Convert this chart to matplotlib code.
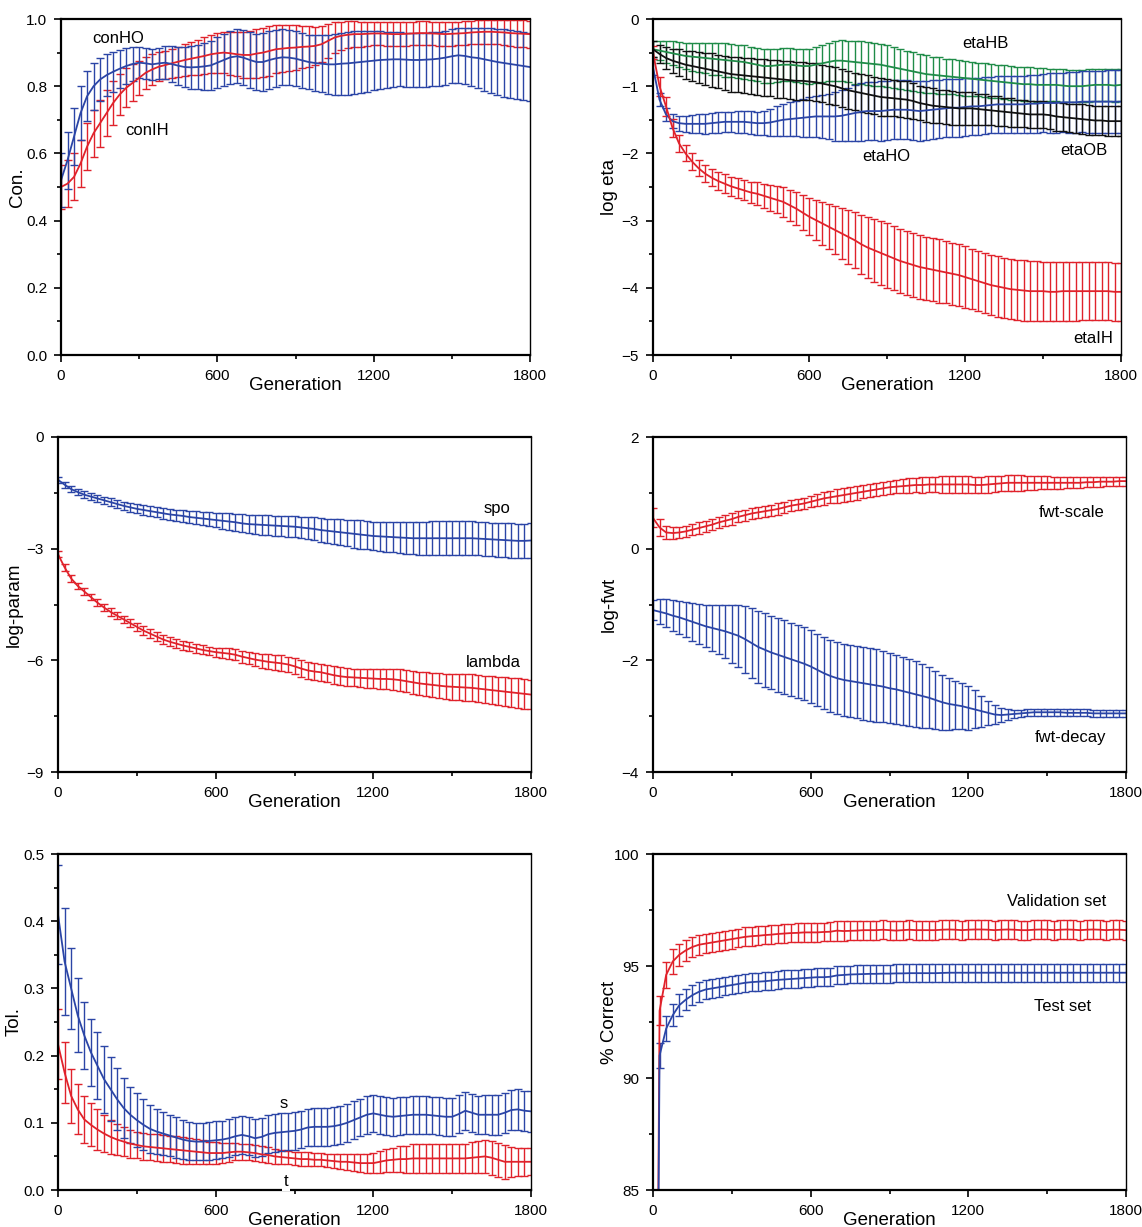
import matplotlib
matplotlib.use("Agg")
import matplotlib.pyplot as plt
from matplotlib.ticker import MultipleLocator

plt.rcParams["font.family"] = ["Liberation Sans", "DejaVu Sans"]

# ── Data: one point every 25 generations (0 .. 1800) ─────────────────
gens = list(range(0, 1801, 25))

# panel 1 - connectivity
conIH_mean = [0.50,
    0.51, 0.53, 0.57, 0.62, 0.66, 0.69, 0.72, 0.75, 0.775, 0.795, 0.81, 0.825,
    0.84, 0.85, 0.858, 0.863, 0.868, 0.873, 0.878, 0.882, 0.886, 0.89, 0.895, 0.898,
    0.90, 0.898, 0.895, 0.893, 0.893, 0.897, 0.90, 0.905, 0.91, 0.912, 0.914, 0.915,
    0.917, 0.918, 0.92, 0.925, 0.935, 0.945, 0.95, 0.953, 0.955, 0.955, 0.956, 0.957,
    0.957, 0.956, 0.955, 0.955, 0.956, 0.957, 0.958, 0.958, 0.957, 0.956, 0.955, 0.956,
    0.957, 0.958, 0.960, 0.961, 0.962, 0.962, 0.961, 0.960, 0.958, 0.957, 0.956, 0.955]
conIH_err = [0.065,
    0.07, 0.07, 0.07, 0.07, 0.07, 0.07, 0.068, 0.065, 0.06, 0.058, 0.055, 0.05,
    0.047, 0.045, 0.043, 0.042, 0.043, 0.045, 0.047, 0.05, 0.052, 0.055, 0.057, 0.06,
    0.062, 0.064, 0.066, 0.068, 0.07, 0.072, 0.073, 0.074, 0.072, 0.07, 0.068, 0.066,
    0.063, 0.06, 0.057, 0.054, 0.05, 0.046, 0.042, 0.04, 0.038, 0.037, 0.036, 0.035,
    0.035, 0.035, 0.035, 0.035, 0.035, 0.035, 0.035, 0.035, 0.035, 0.035, 0.035, 0.035,
    0.035, 0.035, 0.035, 0.035, 0.035, 0.035, 0.036, 0.037, 0.038, 0.039, 0.04, 0.04]
conHO_mean = [0.52,
    0.58, 0.65, 0.72, 0.77, 0.80, 0.82, 0.833, 0.843, 0.852, 0.86, 0.866, 0.87,
    0.868, 0.865, 0.868, 0.87, 0.866, 0.861, 0.857, 0.856, 0.857, 0.859, 0.862, 0.87,
    0.878, 0.886, 0.889, 0.885, 0.878, 0.872, 0.872, 0.878, 0.883, 0.886, 0.885, 0.882,
    0.877, 0.872, 0.869, 0.867, 0.865, 0.865, 0.867, 0.868, 0.87, 0.872, 0.874, 0.876,
    0.878, 0.879, 0.88, 0.88, 0.879, 0.878, 0.878, 0.879, 0.88, 0.882, 0.885, 0.889,
    0.892, 0.89, 0.886, 0.884, 0.88, 0.876, 0.872, 0.869, 0.866, 0.863, 0.86, 0.857]
conHO_err = [0.08,
    0.085, 0.085, 0.08, 0.075, 0.07, 0.065, 0.062, 0.06, 0.057, 0.054, 0.05, 0.047,
    0.046, 0.046, 0.047, 0.05, 0.053, 0.057, 0.06, 0.063, 0.066, 0.069, 0.072, 0.075,
    0.077, 0.079, 0.08, 0.082, 0.083, 0.084, 0.085, 0.085, 0.084, 0.083, 0.082, 0.081,
    0.081, 0.081, 0.082, 0.084, 0.087, 0.09, 0.092, 0.094, 0.094, 0.092, 0.09, 0.088,
    0.085, 0.083, 0.081, 0.08, 0.08, 0.08, 0.08, 0.08, 0.08, 0.08, 0.08, 0.08,
    0.081, 0.083, 0.086, 0.09, 0.093, 0.096, 0.098, 0.1, 0.1, 0.1, 0.1, 0.1]

# panel 2 - learning rates
etaHB_mean = [-0.45,
    -0.47, -0.49, -0.51, -0.53, -0.55, -0.56, -0.57, -0.58, -0.59, -0.60, -0.61, -0.62,
    -0.63, -0.64, -0.66, -0.68, -0.70, -0.70, -0.69, -0.68, -0.68, -0.69, -0.70, -0.70,
    -0.68, -0.66, -0.64, -0.62, -0.62, -0.63, -0.64, -0.65, -0.66, -0.67, -0.68, -0.70,
    -0.72, -0.74, -0.76, -0.78, -0.80, -0.82, -0.83, -0.84, -0.85, -0.86, -0.87, -0.88,
    -0.89, -0.90, -0.91, -0.92, -0.93, -0.94, -0.95, -0.96, -0.97, -0.97, -0.98, -0.98,
    -0.98, -0.98, -0.99, -1.00, -1.00, -1.00, -0.99, -0.98, -0.98, -0.98, -0.99, -0.98]
etaHB_err = [0.12,
    0.14, 0.16, 0.18, 0.19, 0.20, 0.21, 0.22, 0.23, 0.24, 0.24, 0.25, 0.25,
    0.25, 0.25, 0.25, 0.25, 0.25, 0.25, 0.25, 0.25, 0.25, 0.25, 0.25, 0.26,
    0.27, 0.28, 0.29, 0.30, 0.31, 0.31, 0.32, 0.32, 0.32, 0.32, 0.31, 0.31,
    0.30, 0.30, 0.29, 0.29, 0.28, 0.28, 0.27, 0.27, 0.26, 0.26, 0.26, 0.26,
    0.25, 0.25, 0.25, 0.25, 0.25, 0.25, 0.25, 0.25, 0.25, 0.25, 0.25, 0.25,
    0.24, 0.24, 0.24, 0.24, 0.24, 0.24, 0.24, 0.24, 0.24, 0.24, 0.24, 0.24]
etaOB_mean = [-0.45,
    -0.52, -0.58, -0.62, -0.65, -0.68, -0.70, -0.72, -0.74, -0.76, -0.78, -0.80, -0.82,
    -0.83, -0.84, -0.85, -0.86, -0.87, -0.88, -0.89, -0.90, -0.91, -0.92, -0.92, -0.93,
    -0.94, -0.96, -0.98, -1.00, -1.03, -1.06, -1.08, -1.10, -1.12, -1.14, -1.16, -1.17,
    -1.18, -1.19, -1.20, -1.22, -1.25, -1.27, -1.29, -1.30, -1.31, -1.32, -1.33, -1.33,
    -1.33, -1.34, -1.35, -1.36, -1.37, -1.38, -1.39, -1.40, -1.41, -1.42, -1.42, -1.42,
    -1.43, -1.45, -1.46, -1.47, -1.48, -1.49, -1.50, -1.51, -1.51, -1.52, -1.52, -1.52]
etaOB_err = [0.12,
    0.14, 0.16, 0.18, 0.20, 0.21, 0.22, 0.23, 0.24, 0.25, 0.25, 0.25, 0.26,
    0.26, 0.26, 0.27, 0.27, 0.27, 0.27, 0.28, 0.28, 0.28, 0.28, 0.28, 0.28,
    0.28, 0.28, 0.28, 0.28, 0.28, 0.28, 0.28, 0.28, 0.28, 0.28, 0.28, 0.28,
    0.27, 0.27, 0.27, 0.27, 0.26, 0.26, 0.26, 0.25, 0.25, 0.25, 0.25, 0.24,
    0.24, 0.23, 0.23, 0.22, 0.22, 0.21, 0.21, 0.20, 0.20, 0.20, 0.20, 0.20,
    0.20, 0.21, 0.21, 0.21, 0.22, 0.22, 0.22, 0.22, 0.22, 0.22, 0.22, 0.22]
etaHO_mean = [-0.72,
    -1.20, -1.42, -1.52, -1.55, -1.56, -1.56, -1.56, -1.56, -1.55, -1.54, -1.53, -1.53,
    -1.53, -1.53, -1.54, -1.55, -1.55, -1.54, -1.52, -1.50, -1.49, -1.48, -1.47, -1.46,
    -1.45, -1.45, -1.45, -1.45, -1.44, -1.42, -1.40, -1.38, -1.37, -1.37, -1.37, -1.36,
    -1.35, -1.35, -1.35, -1.36, -1.37, -1.36, -1.35, -1.34, -1.33, -1.32, -1.32, -1.31,
    -1.30, -1.30, -1.29, -1.28, -1.27, -1.27, -1.27, -1.27, -1.27, -1.26, -1.26, -1.25,
    -1.25, -1.25, -1.24, -1.24, -1.24, -1.23, -1.23, -1.23, -1.23, -1.23, -1.23, -1.23]
etaHO_err = [0.12,
    0.10, 0.10, 0.10, 0.11, 0.12, 0.13, 0.14, 0.15, 0.15, 0.15, 0.15, 0.15,
    0.16, 0.16, 0.17, 0.17, 0.18, 0.20, 0.22, 0.24, 0.25, 0.26, 0.28, 0.30,
    0.31, 0.32, 0.34, 0.36, 0.38, 0.40, 0.42, 0.43, 0.43, 0.43, 0.44, 0.44,
    0.44, 0.44, 0.44, 0.44, 0.44, 0.44, 0.44, 0.43, 0.43, 0.43, 0.43, 0.43,
    0.42, 0.42, 0.42, 0.42, 0.42, 0.42, 0.42, 0.42, 0.42, 0.43, 0.43, 0.43,
    0.44, 0.44, 0.44, 0.45, 0.45, 0.45, 0.46, 0.46, 0.46, 0.47, 0.47, 0.47]
etaIH_mean = [-0.50,
    -1.00, -1.30, -1.62, -1.85, -2.00, -2.12, -2.22, -2.30, -2.36, -2.41, -2.45, -2.49,
    -2.52, -2.55, -2.58, -2.60, -2.63, -2.66, -2.69, -2.72, -2.77, -2.82, -2.88, -2.94,
    -2.99, -3.04, -3.09, -3.14, -3.19, -3.24, -3.29, -3.35, -3.40, -3.44, -3.48, -3.52,
    -3.56, -3.60, -3.63, -3.66, -3.69, -3.71, -3.73, -3.75, -3.77, -3.79, -3.81, -3.84,
    -3.87, -3.90, -3.93, -3.96, -3.98, -4.00, -4.02, -4.03, -4.04, -4.05, -4.05, -4.05,
    -4.06, -4.06, -4.05, -4.05, -4.05, -4.05, -4.05, -4.05, -4.05, -4.05, -4.06, -4.06]
etaIH_err = [0.10,
    0.14, 0.14, 0.13, 0.13, 0.12, 0.12, 0.12, 0.12, 0.13, 0.13, 0.14, 0.14,
    0.15, 0.15, 0.16, 0.17, 0.18, 0.19, 0.20, 0.22, 0.23, 0.24, 0.26, 0.28,
    0.30, 0.32, 0.34, 0.36, 0.38, 0.40, 0.42, 0.44, 0.46, 0.47, 0.48, 0.48,
    0.48, 0.48, 0.48, 0.48, 0.48, 0.47, 0.47, 0.47, 0.46, 0.46, 0.46, 0.46,
    0.45, 0.45, 0.45, 0.45, 0.45, 0.45, 0.45, 0.45, 0.45, 0.45, 0.45, 0.44,
    0.44, 0.44, 0.44, 0.44, 0.44, 0.43, 0.43, 0.43, 0.43, 0.43, 0.43, 0.43]

# panel 3 - log parameters
spo_mean = [-1.15,
    -1.28, -1.40, -1.48, -1.55, -1.60, -1.65, -1.70, -1.75, -1.80, -1.85, -1.89, -1.93,
    -1.96, -1.99, -2.02, -2.05, -2.08, -2.10, -2.12, -2.15, -2.17, -2.19, -2.21, -2.23,
    -2.25, -2.27, -2.29, -2.32, -2.34, -2.35, -2.36, -2.37, -2.38, -2.39, -2.40, -2.41,
    -2.43, -2.45, -2.47, -2.50, -2.52, -2.54, -2.56, -2.58, -2.60, -2.62, -2.64, -2.66,
    -2.67, -2.68, -2.69, -2.70, -2.71, -2.72, -2.72, -2.72, -2.72, -2.72, -2.72, -2.72,
    -2.72, -2.72, -2.72, -2.73, -2.74, -2.75, -2.76, -2.77, -2.78, -2.79, -2.79, -2.78]
spo_err = [0.08,
    0.08, 0.08, 0.08, 0.09, 0.09, 0.10, 0.10, 0.10, 0.11, 0.11, 0.12, 0.12,
    0.13, 0.13, 0.14, 0.14, 0.15, 0.15, 0.16, 0.16, 0.17, 0.18, 0.19, 0.20,
    0.21, 0.22, 0.23, 0.24, 0.25, 0.26, 0.26, 0.27, 0.27, 0.28, 0.28, 0.28,
    0.29, 0.30, 0.31, 0.32, 0.33, 0.34, 0.35, 0.36, 0.37, 0.38, 0.38, 0.38,
    0.39, 0.40, 0.41, 0.42, 0.43, 0.43, 0.44, 0.44, 0.45, 0.45, 0.45, 0.45,
    0.45, 0.45, 0.45, 0.45, 0.45, 0.45, 0.46, 0.46, 0.46, 0.46, 0.46, 0.46]
lambda_mean = [-3.15,
    -3.50, -3.80, -4.00, -4.15, -4.30, -4.45, -4.58, -4.70, -4.80, -4.90, -5.00, -5.10,
    -5.20, -5.28, -5.36, -5.44, -5.50, -5.55, -5.60, -5.64, -5.68, -5.72, -5.75, -5.78,
    -5.80, -5.82, -5.85, -5.90, -5.94, -5.98, -6.01, -6.04, -6.06, -6.08, -6.11, -6.16,
    -6.22, -6.27, -6.30, -6.32, -6.36, -6.40, -6.43, -6.45, -6.46, -6.47, -6.48, -6.49,
    -6.50, -6.50, -6.51, -6.53, -6.56, -6.59, -6.62, -6.64, -6.66, -6.68, -6.70, -6.71,
    -6.72, -6.73, -6.74, -6.76, -6.78, -6.80, -6.82, -6.84, -6.86, -6.88, -6.90, -6.92]
lambda_err = [0.08,
    0.09, 0.09, 0.09, 0.09, 0.09, 0.10, 0.10, 0.10, 0.10, 0.10, 0.11, 0.11,
    0.11, 0.11, 0.12, 0.12, 0.12, 0.12, 0.12, 0.12, 0.12, 0.12, 0.12, 0.12,
    0.13, 0.14, 0.15, 0.16, 0.17, 0.18, 0.19, 0.20, 0.20, 0.21, 0.21, 0.22,
    0.22, 0.22, 0.23, 0.23, 0.23, 0.24, 0.24, 0.24, 0.24, 0.25, 0.25, 0.25,
    0.26, 0.27, 0.28, 0.29, 0.30, 0.31, 0.32, 0.33, 0.33, 0.34, 0.34, 0.35,
    0.35, 0.36, 0.36, 0.37, 0.37, 0.38, 0.38, 0.39, 0.39, 0.40, 0.40, 0.40]

# panel 4 - fwt parameters
scale_mean = [0.55,
    0.38, 0.29, 0.28, 0.29, 0.31, 0.34, 0.37, 0.40, 0.43, 0.47, 0.50, 0.53,
    0.57, 0.60, 0.63, 0.65, 0.67, 0.69, 0.71, 0.74, 0.77, 0.79, 0.81, 0.84,
    0.87, 0.90, 0.92, 0.94, 0.96, 0.98, 1.00, 1.02, 1.04, 1.06, 1.08, 1.10,
    1.11, 1.12, 1.13, 1.14, 1.14, 1.15, 1.15, 1.15, 1.15, 1.15, 1.15, 1.15,
    1.14, 1.14, 1.15, 1.16, 1.17, 1.18, 1.18, 1.18, 1.18, 1.18, 1.18, 1.18,
    1.18, 1.18, 1.18, 1.18, 1.18, 1.19, 1.19, 1.20, 1.20, 1.20, 1.21, 1.21]
scale_err = [0.17,
    0.15, 0.12, 0.11, 0.10, 0.10, 0.10, 0.10, 0.10, 0.10, 0.10, 0.10, 0.10,
    0.10, 0.10, 0.10, 0.10, 0.10, 0.10, 0.10, 0.10, 0.10, 0.10, 0.10, 0.10,
    0.11, 0.11, 0.11, 0.12, 0.12, 0.12, 0.12, 0.12, 0.12, 0.12, 0.12, 0.12,
    0.12, 0.13, 0.13, 0.13, 0.14, 0.14, 0.14, 0.15, 0.15, 0.15, 0.15, 0.15,
    0.15, 0.15, 0.15, 0.15, 0.14, 0.14, 0.14, 0.14, 0.13, 0.13, 0.12, 0.12,
    0.11, 0.11, 0.10, 0.10, 0.10, 0.09, 0.09, 0.09, 0.08, 0.08, 0.08, 0.08]
decay_mean = [-1.10,
    -1.13, -1.16, -1.20, -1.23, -1.27, -1.31, -1.35, -1.39, -1.42, -1.45, -1.48, -1.52,
    -1.56, -1.62, -1.69, -1.76, -1.81, -1.86, -1.90, -1.94, -1.98, -2.02, -2.06, -2.11,
    -2.17, -2.23, -2.28, -2.32, -2.35, -2.37, -2.39, -2.41, -2.43, -2.45, -2.47, -2.50,
    -2.52, -2.55, -2.58, -2.61, -2.64, -2.67, -2.71, -2.75, -2.78, -2.80, -2.82, -2.85,
    -2.88, -2.91, -2.94, -2.97, -2.98, -2.97, -2.96, -2.95, -2.94, -2.93, -2.93, -2.93,
    -2.93, -2.93, -2.94, -2.94, -2.94, -2.94, -2.95, -2.95, -2.95, -2.95, -2.95, -2.95]
decay_err = [0.18,
    0.22, 0.25, 0.28, 0.30, 0.32, 0.34, 0.36, 0.38, 0.41, 0.44, 0.48, 0.52,
    0.56, 0.60, 0.63, 0.65, 0.66, 0.66, 0.66, 0.66, 0.65, 0.65, 0.65, 0.65,
    0.65, 0.65, 0.65, 0.65, 0.65, 0.65, 0.65, 0.65, 0.65, 0.65, 0.64, 0.63,
    0.62, 0.61, 0.60, 0.59, 0.57, 0.55, 0.52, 0.49, 0.46, 0.43, 0.41, 0.39,
    0.34, 0.28, 0.22, 0.17, 0.12, 0.09, 0.07, 0.06, 0.06, 0.06, 0.06, 0.06,
    0.06, 0.06, 0.06, 0.06, 0.06, 0.06, 0.06, 0.06, 0.06, 0.06, 0.06, 0.06]

# panel 5 - tolerances
s_mean = [0.41,
    0.34, 0.30, 0.26, 0.23, 0.205, 0.185, 0.165, 0.15, 0.135, 0.122, 0.112, 0.104,
    0.097, 0.091, 0.087, 0.084, 0.081, 0.078, 0.075, 0.073, 0.072, 0.072, 0.073, 0.074,
    0.075, 0.077, 0.08, 0.082, 0.08, 0.077, 0.079, 0.083, 0.085, 0.086, 0.087, 0.088,
    0.09, 0.093, 0.094, 0.094, 0.094, 0.095, 0.097, 0.1, 0.104, 0.108, 0.112, 0.114,
    0.112, 0.11, 0.109, 0.11, 0.111, 0.112, 0.112, 0.112, 0.111, 0.11, 0.109, 0.109,
    0.113, 0.118, 0.115, 0.112, 0.112, 0.112, 0.112, 0.115, 0.119, 0.12, 0.118, 0.117]
s_err = [0.073,
    0.08, 0.06, 0.055, 0.05, 0.05, 0.05, 0.05, 0.048, 0.046, 0.044, 0.042, 0.04,
    0.038, 0.036, 0.034, 0.032, 0.031, 0.03, 0.029, 0.028, 0.028, 0.028, 0.028, 0.028,
    0.028, 0.028, 0.028, 0.028, 0.028, 0.028, 0.028, 0.028, 0.028, 0.028, 0.028, 0.028,
    0.028, 0.028, 0.028, 0.028, 0.028, 0.028, 0.028, 0.028, 0.028, 0.028, 0.028, 0.028,
    0.028, 0.028, 0.028, 0.028, 0.028, 0.028, 0.028, 0.028, 0.028, 0.028, 0.028, 0.028,
    0.028, 0.028, 0.028, 0.028, 0.029, 0.03, 0.03, 0.03, 0.03, 0.03, 0.03, 0.03]
t_mean = [0.217,
    0.175, 0.14, 0.12, 0.105, 0.097, 0.09, 0.084, 0.079, 0.075, 0.072, 0.069, 0.067,
    0.065, 0.064, 0.063, 0.062, 0.061, 0.06, 0.059, 0.058, 0.057, 0.056, 0.055, 0.055,
    0.055, 0.056, 0.057, 0.057, 0.056, 0.055, 0.053, 0.052, 0.05, 0.049, 0.048, 0.047,
    0.046, 0.046, 0.045, 0.045, 0.044, 0.043, 0.042, 0.042, 0.041, 0.04, 0.04, 0.04,
    0.042, 0.044, 0.045, 0.046, 0.046, 0.047, 0.047, 0.047, 0.047, 0.047, 0.047, 0.047,
    0.047, 0.047, 0.048, 0.049, 0.05, 0.048, 0.045, 0.042, 0.042, 0.042, 0.042, 0.042]
t_err = [0.052,
    0.045, 0.04, 0.037, 0.035, 0.032, 0.03, 0.028, 0.025, 0.023, 0.022, 0.021, 0.02,
    0.02, 0.02, 0.02, 0.02, 0.02, 0.02, 0.02, 0.02, 0.019, 0.018, 0.017, 0.016,
    0.015, 0.014, 0.013, 0.012, 0.012, 0.012, 0.012, 0.012, 0.011, 0.011, 0.01, 0.01,
    0.01, 0.01, 0.01, 0.01, 0.01, 0.011, 0.011, 0.012, 0.012, 0.013, 0.014, 0.015,
    0.016, 0.017, 0.018, 0.019, 0.02, 0.021, 0.022, 0.022, 0.022, 0.022, 0.022, 0.022,
    0.022, 0.022, 0.023, 0.024, 0.025, 0.025, 0.025, 0.025, 0.022, 0.021, 0.021, 0.02]

# panel 6 - % correct
val_mean = [50.0,
    93.0, 94.6, 95.2, 95.5, 95.7, 95.85, 95.95, 96.0, 96.05, 96.1, 96.15, 96.2,
    96.25, 96.3, 96.33, 96.35, 96.38, 96.4, 96.43, 96.45, 96.47, 96.48, 96.5, 96.5,
    96.5, 96.52, 96.53, 96.58, 96.56, 96.57, 96.58, 96.6, 96.6, 96.6, 96.62, 96.6,
    96.58, 96.6, 96.62, 96.6, 96.6, 96.6, 96.6, 96.62, 96.63, 96.62, 96.6, 96.62,
    96.63, 96.63, 96.62, 96.6, 96.62, 96.63, 96.62, 96.6, 96.6, 96.62, 96.63, 96.62,
    96.6, 96.62, 96.63, 96.62, 96.6, 96.62, 96.63, 96.62, 96.6, 96.62, 96.62, 96.6]
val_err = [0.7,
    0.65, 0.6, 0.55, 0.5, 0.48, 0.46, 0.45, 0.44, 0.43, 0.42, 0.42, 0.42,
    0.42, 0.42, 0.42, 0.42, 0.42, 0.42, 0.42, 0.42, 0.42, 0.42, 0.42, 0.42,
    0.42, 0.42, 0.42, 0.45, 0.43, 0.42, 0.42, 0.42, 0.42, 0.42, 0.42, 0.42,
    0.42, 0.42, 0.42, 0.42, 0.42, 0.42, 0.42, 0.42, 0.43, 0.43, 0.42, 0.42,
    0.42, 0.43, 0.42, 0.42, 0.42, 0.42, 0.42, 0.42, 0.42, 0.42, 0.42, 0.42,
    0.42, 0.42, 0.42, 0.42, 0.42, 0.42, 0.42, 0.42, 0.42, 0.42, 0.42, 0.42]
test_mean = [50.0,
    91.0, 92.2, 92.8, 93.25, 93.5, 93.7, 93.85, 93.95, 94.0, 94.05, 94.1, 94.15,
    94.2, 94.25, 94.28, 94.3, 94.32, 94.35, 94.38, 94.4, 94.42, 94.44, 94.46, 94.48,
    94.5, 94.5, 94.52, 94.58, 94.6, 94.62, 94.63, 94.64, 94.65, 94.65, 94.66, 94.66,
    94.67, 94.67, 94.68, 94.68, 94.68, 94.68, 94.68, 94.69, 94.7, 94.7, 94.7, 94.7,
    94.7, 94.7, 94.7, 94.7, 94.7, 94.7, 94.7, 94.7, 94.7, 94.7, 94.7, 94.7,
    94.7, 94.7, 94.7, 94.7, 94.7, 94.7, 94.7, 94.7, 94.7, 94.7, 94.7, 94.7]
test_err = [0.6,
    0.55, 0.55, 0.5, 0.5, 0.48, 0.46, 0.45, 0.44, 0.43, 0.42, 0.4, 0.4,
    0.4, 0.4, 0.4, 0.4, 0.4, 0.4, 0.4, 0.4, 0.4, 0.4, 0.4, 0.4,
    0.4, 0.4, 0.4, 0.4, 0.4, 0.4, 0.4, 0.4, 0.4, 0.4, 0.4, 0.4,
    0.4, 0.4, 0.4, 0.4, 0.4, 0.4, 0.4, 0.4, 0.4, 0.4, 0.4, 0.4,
    0.4, 0.4, 0.4, 0.4, 0.4, 0.4, 0.4, 0.4, 0.4, 0.4, 0.4, 0.4,
    0.4, 0.4, 0.4, 0.4, 0.4, 0.4, 0.4, 0.4, 0.4, 0.4, 0.4, 0.4]

RED = "#e0222b"
BLUE = "#2b45a6"
GREEN = "#1f8c48"
BLACK = "#111111"

# ── Figure: 2 x 3 panels placed by pixel boxes ───────────────────────
W, H = 1142, 1227
fig = plt.figure(figsize=(W / 100, H / 100), dpi=100)


def make_ax(left, right, top, bottom):
    return fig.add_axes([left / W, 1 - bottom / H, (right - left) / W, (bottom - top) / H])


def style(ax, ylim, major, minor, ylabel, fmt=None):
    ax.set_xlim(0, 1800)
    ax.set_ylim(*ylim)
    ax.xaxis.set_major_locator(MultipleLocator(600))
    ax.xaxis.set_minor_locator(MultipleLocator(300))
    ax.yaxis.set_major_locator(MultipleLocator(major))
    ax.yaxis.set_minor_locator(MultipleLocator(minor))
    if fmt:
        ax.yaxis.set_major_formatter(fmt)
    ax.tick_params(which="both", direction="out", top=False, right=False,
                   labelsize=11, width=1.2)
    ax.tick_params(which="major", length=5, pad=5)
    ax.tick_params(which="minor", length=3)
    for side in ("left", "bottom", "top"):
        ax.spines[side].set_linewidth(1.6)
    ax.spines["right"].set_linewidth(1.0)
    ax.set_xlabel("Generation", fontsize=13.5)
    ax.xaxis.set_label_coords(0.5, -0.066)
    ax.set_ylabel(ylabel, fontsize=13.5)
    ax.yaxis.set_label_coords(-0.075, 0.5)


def band(ax, mean, err, color):
    ax.errorbar(gens, mean, yerr=err, color=color, lw=1.3, elinewidth=1.0,
                capsize=3, capthick=1.0)


def label(ax, x, y, text, **kw):
    ax.text(x, y, text, fontsize=12, ha="center", va="center", **kw)


# panel 1
ax1 = make_ax(61, 530, 19, 355)
band(ax1, conIH_mean, conIH_err, RED)
band(ax1, conHO_mean, conHO_err, BLUE)
style(ax1, (0, 1.0), 0.2, 0.1, "Con.", "{x:.1f}")
label(ax1, 219, 0.943, "conHO")
label(ax1, 331, 0.667, "conIH")

# panel 2
ax2 = make_ax(653, 1121, 19, 355)
band(ax2, etaHB_mean, etaHB_err, GREEN)
band(ax2, etaHO_mean, etaHO_err, BLUE)
band(ax2, etaOB_mean, etaOB_err, BLACK)
band(ax2, etaIH_mean, etaIH_err, RED)
style(ax2, (-5, 0), 1, 0.5, "log eta", "{x:.0f}")
label(ax2, 1277, -0.36, "etaHB")
label(ax2, 896, -2.04, "etaHO")
label(ax2, 1658, -1.95, "etaOB")
label(ax2, 1692, -4.76, "etaIH")

# panel 3
ax3 = make_ax(58, 531, 437, 772)
band(ax3, spo_mean, spo_err, BLUE)
band(ax3, lambda_mean, lambda_err, RED)
style(ax3, (-9, 0), 3, 1.5, "log-param", "{x:.0f}")
label(ax3, 1670, -1.91, "spo")
label(ax3, 1655, -6.07, "lambda")

# panel 4
ax4 = make_ax(653, 1126, 437, 772)
band(ax4, scale_mean, scale_err, RED)
band(ax4, decay_mean, decay_err, BLUE)
style(ax4, (-4, 2), 2, 1, "log-fwt", "{x:.0f}")
label(ax4, 1594, 0.656, "fwt-scale")
label(ax4, 1590, -3.39, "fwt-decay")

# panel 5
ax5 = make_ax(58, 531, 854, 1190)
band(ax5, t_mean, t_err, RED)
band(ax5, s_mean, s_err, BLUE)
style(ax5, (0, 0.5), 0.1, 0.05, "Tol.", "{x:.1f}")
label(ax5, 860, 0.129, "s")
label(ax5, 867, 0.012, "t", zorder=5,
      bbox=dict(facecolor="white", edgecolor="none", pad=1.5))

# panel 6
ax6 = make_ax(653, 1126, 854, 1190)
band(ax6, val_mean, val_err, RED)
band(ax6, test_mean, test_err, BLUE)
style(ax6, (85, 100), 5, 2.5, "% Correct", "{x:.0f}")
label(ax6, 1537, 97.9, "Validation set")
label(ax6, 1560, 93.2, "Test set")

fig.savefig("out.png", dpi=100)
